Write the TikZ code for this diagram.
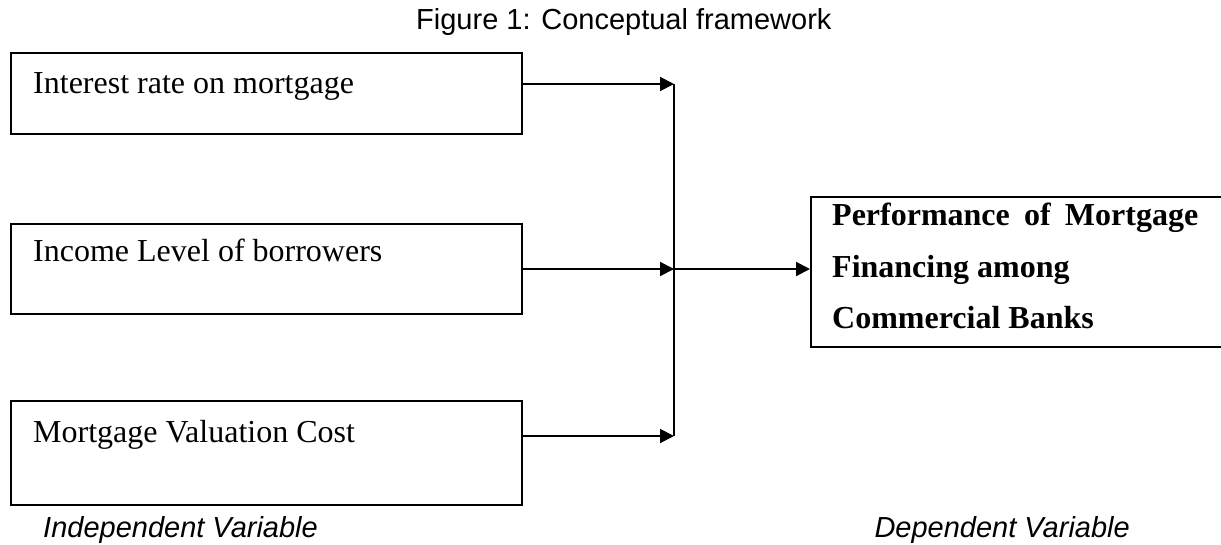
\documentclass[tikz,border=0pt]{standalone}
\usepackage{fontspec}
\setmainfont{Liberation Serif}
\newfontfamily\arial{Liberation Sans}
\usetikzlibrary{arrows.meta}
\begin{document}
\begin{tikzpicture}[x=1pt,y=-1pt,
  box/.style={draw, line width=1.6pt, inner sep=0pt, anchor=north west},
  boxtext/.style={anchor=base west, inner sep=0pt, font=\fontsize{32}{38}\selectfont},
  deptext/.style={anchor=base west, inner sep=0pt, font=\fontsize{32}{38}\selectfont\bfseries},
  caption/.style={inner sep=0pt, font=\arial\itshape\fontsize{29}{34}\selectfont},
  link/.style={line width=2pt},
  arr/.style={line width=2pt, -{Triangle[length=14pt,width=14pt]}}]
\useasboundingbox (0,0) rectangle (1221,544);
\node[anchor=base west, inner sep=0pt, font=\arial\fontsize{29}{34}\selectfont] (title) at (416,29) {Figure 1: Conceptual framework};
\node[box, minimum width=511pt, minimum height=81pt] (b1) at (10,52) {};
\node[box, minimum width=511pt, minimum height=90pt] (b2) at (10,223) {};
\node[box, minimum width=511pt, minimum height=104pt] (b3) at (10,400) {};
\node[boxtext] (t1) at (33,93) {Interest rate on mortgage};
\node[boxtext] (t2) at (33,261) {Income Level of borrowers};
\node[boxtext] (t3) at (33,442) {Mortgage Valuation Cost};
\node[box, minimum width=440pt, minimum height=150pt] (dep) at (810,196) {};
\node[deptext] (d1) at (832,225) {\makebox[366pt][s]{Performance of Mortgage}};
\node[deptext] (d2) at (832,277) {Financing among};
\node[deptext] (d3) at (832,328) {Commercial Banks};
\coordinate (j1) at (674,84);
\coordinate (j2) at (674,269);
\coordinate (j3) at (674,436);
\draw[arr] (b1.east |- j1) -- (j1);
\draw[arr] (b2.east |- j2) -- (j2);
\draw[arr] (b3.east |- j3) -- (j3);
\draw[link] (j1) -- (j3);
\draw[arr] (j2) -- (dep.west |- j2);
\node[caption, anchor=base west] (iv) at (43,537) {Independent Variable};
\node[caption, anchor=base east] (dv) at (1130,537) {Dependent Variable};
\end{tikzpicture}
\end{document}
